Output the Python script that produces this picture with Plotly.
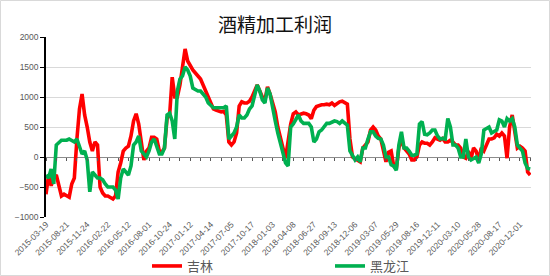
import plotly.graph_objects as go

# ---- data ----
tick_labels = ["2015-03-19", "2015-08-21", "2015-11-24", "2016-02-22", "2016-05-12",
               "2016-08-01", "2016-10-24", "2017-01-12", "2017-04-14", "2017-07-05",
               "2017-10-17", "2018-01-03", "2018-04-08", "2018-06-27", "2018-09-13",
               "2018-12-06", "2019-03-07", "2019-05-29", "2019-08-16", "2019-12-11",
               "2020-03-10", "2020-05-28", "2020-08-17", "2020-12-01"]

jilin = [-620, -300, -480, -350, -300, -500, -650, -620, -650, -670,
         -450, -350, 300, 800, 1050, 700, 500, 250, 100, 250,
         200, -500, -600, -650, -650, -680, -700, -650, -250, -100,
         100, 150, 180, 350, 600, 720, 550, 250, -50, 100,
         150, 330, 330, 300, 100, 80, 150, 650, 700, 1330,
         1000, 1000, 1200, 1500, 1800, 1600, 1520, 1450, 1400, 1350,
         1300, 1200, 1100, 1000, 920, 800, 780, 760, 750, 760,
         700, 250, 200, 250, 400, 850, 920, 900, 900, 930,
         1000, 1100, 1200, 1100, 1000, 950, 1170, 1050, 900, 750,
         500, 300, 150, -20, 300,
         550, 720, 750, 700, 720, 730, 720, 700, 640, 780,
         840, 860, 870, 870, 880, 870, 900, 860, 900, 920,
         930, 900, 880, 300, 0, -30, -50, -80, 150, 200,
         250, 450, 500, 450, 350, 300, 100, -80, 80, 100,
         -150, -200, 150, 300, 150, 100, 50, -50, -50, 0,
         200, 250, 230, 230, 200, 250, 320, 300, 280, 310,
         250, 250, 280, 250, 200, 200, 150, 0, -20, 100,
         -30, 150, 100, -50, 150, 100, 200, 300, 300, 320,
         380, 350, 400, 350, -20, 500, 700, 400, 150, 180,
         150, 100, -250, -300]

heilongjiang = [-300, -350, -200, -450, 200, 250, 280, 280, 280, 300,
                280, 250, 300, 150, 50, 100, -50, -580, -250, -300,
                -350, -350, -380, -450, -500, -500, -500, -550, -700, -350,
                -200, -250, -300, -150, 200, 250, 350, 100, 50, 0,
                100, 250, 300, 150, 50, 50, 150, 700, 730, 600,
                300, 1100, 1300, 1350, 1500, 1450, 1350, 1150, 1120, 1100,
                1100, 1050, 1000, 900, 850, 820, 820, 820, 820, 820,
                850, 300, 350, 400, 500, 700, 650, 650, 700, 800,
                850, 1000, 1200, 1100, 950, 900, 1150, 1050, 800, 600,
                400, 250, 100, -100, -150,
                500, 550, 620, 700, 600, 560, 560, 560, 500, 250,
                300, 420, 450, 500, 560, 560, 580, 600, 590, 560,
                600, 560, 530, 100, 30, -50, 0, -80, 150, 150,
                300, 420, 420, 350, 310, 300, 200, 0, 0, -130,
                -150, -220, 200, 420, 150, 150, 100, 30, 30, 50,
                550, 590, 380, 370, 400, 450, 450, 350, 300, 310,
                300, 640, 500, 200, 200, 150, 0, 0, 300, 0,
                -50, -20, 0, -100, 50, 450, 480, 500, 400, 420,
                450, 620, 600, 500, 640, 600, 640, 500, 200, 150,
                100, -100, -190, -200]

label_step = 8   # points between two date labels
minor_step = 4   # points between two tick marks

# ---- layout geometry ----
W, H = 550, 276
ml, mr, mt, mb = 46, 19, 37, 59
pw, ph = W - ml - mr, H - mt - mb
y_min, y_max = -1000, 2000

idx = list(range(len(jilin)))
tickvals = [i * label_step for i in range(len(tick_labels))]
minor_vals = list(range(0, len(jilin), minor_step))

fig = go.Figure()
fig.add_trace(go.Scatter(x=idx, y=jilin, mode="lines", name="吉林",
                         line=dict(color="#FF0000", width=3.6), legend="legend"))
fig.add_trace(go.Scatter(x=idx, y=heilongjiang, mode="lines", name="黑龙江",
                         line=dict(color="#00B050", width=3.6), legend="legend2"))
# helper trace so the zero-line tick axis is drawn
fig.add_trace(go.Scatter(x=[idx[0]], y=[0], mode="markers", marker=dict(opacity=0),
                         xaxis="x2", showlegend=False, hoverinfo="skip"))

zero_pos = (0 - y_min) / (y_max - y_min)

fig.update_layout(
    width=W, height=H,
    margin=dict(l=ml, r=mr, t=mt, b=mb, autoexpand=False),
    paper_bgcolor="white", plot_bgcolor="white",
    font=dict(family="Noto Sans CJK SC, DejaVu Sans", color="#595959"),
    title=dict(text="酒精加工利润", x=0.5, xanchor="center", y=1 - 25 / H, yanchor="middle",
               font=dict(size=19, color="#111111", family="Noto Sans CJK SC")),
    xaxis=dict(range=[0, 188.3], tickmode="array", tickvals=tickvals, ticktext=tick_labels,
               tickangle=-45, automargin=False,
               tickfont=dict(size=8.5, color="#595959", family="Liberation Sans, Arial"),
               showgrid=False, zeroline=False, showline=False, ticks=""),
    xaxis2=dict(range=[0, 188.3], overlaying="x", anchor="free", position=zero_pos,
                tickmode="array", tickvals=minor_vals, ticks="outside", ticklen=3,
                tickcolor="#595959", tickwidth=1, showticklabels=False, automargin=False,
                showgrid=False, zeroline=False, showline=False),
    yaxis=dict(range=[y_min, y_max], dtick=500, showgrid=True, gridcolor="#D9D9D9", gridwidth=1,
               zeroline=True, zerolinecolor="#8C8C8C", zerolinewidth=1.2,
               showline=True, linecolor="#000000", linewidth=1.5, automargin=False,
               ticks="outside", ticklen=4, tickcolor="#000000",
               tickfont=dict(size=8.5, color="#595959", family="Liberation Sans, Arial")),
    legend=dict(orientation="h", xref="container", yref="container", x=147 / W, xanchor="left",
                y=1 - 266 / H, yanchor="middle", bgcolor="rgba(0,0,0,0)",
                font=dict(size=13, color="#595959")),
    legend2=dict(orientation="h", xref="container", yref="container", x=330 / W, xanchor="left",
                 y=1 - 266 / H, yanchor="middle", bgcolor="rgba(0,0,0,0)",
                 font=dict(size=13, color="#595959")),
)

# outer chart frame
fig.add_shape(type="rect", xref="paper", yref="paper",
              x0=(0.5 - ml) / pw, x1=(W - 0.5 - ml) / pw,
              y0=(H - mb - (H - 0.5)) / ph, y1=(H - mb - 0.5) / ph,
              line=dict(color="#D9D9D9", width=1), fillcolor="rgba(0,0,0,0)", layer="below")

fig.write_html("out.html")
